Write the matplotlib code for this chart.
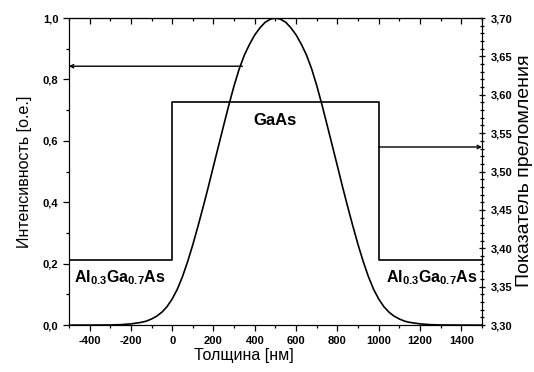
import numpy as np
import matplotlib
matplotlib.use('Agg')
import matplotlib.pyplot as plt
from matplotlib.ticker import MultipleLocator, FuncFormatter

plt.rcParams['font.family'] = ['Liberation Sans', 'DejaVu Sans']
plt.rcParams['mathtext.fontset'] = 'custom'
plt.rcParams['mathtext.rm'] = 'Liberation Sans'
plt.rcParams['mathtext.bf'] = 'Liberation Sans:bold'
plt.rcParams['axes.unicode_minus'] = False

# Интенсивность моды
thickness = [-500, -300, -250, -200, -150, -125, -100, -75, -50, -25,
             0, 25, 50, 75, 100, 125, 150, 175, 200, 225, 250, 275, 300, 325,
             350, 375, 400, 425, 450, 475, 500,
             525, 550, 575, 600, 625, 650, 675, 700, 725, 750, 775, 800, 825,
             850, 875, 900, 925, 950, 975, 1000,
             1025, 1050, 1075, 1100, 1125, 1150, 1200, 1250, 1300, 1500]
intensity = [0.0, 0.0005, 0.0015, 0.004, 0.009, 0.013, 0.02, 0.029, 0.042, 0.06,
             0.085, 0.117, 0.158, 0.207, 0.262, 0.322, 0.385, 0.45, 0.518, 0.585,
             0.652, 0.718, 0.78, 0.835, 0.88, 0.915, 0.945, 0.968, 0.986, 0.996, 1.0,
             0.996, 0.986, 0.968, 0.945, 0.915, 0.88, 0.835, 0.78, 0.718, 0.652,
             0.585, 0.518, 0.45, 0.385, 0.322, 0.262, 0.207, 0.158, 0.117, 0.085,
             0.06, 0.042, 0.029, 0.02, 0.013, 0.009, 0.004, 0.0015, 0.0005, 0.0]

# Профиль показателя преломления
step_x = [-500, 0, 1000, 1500]
step_n = [3.385, 3.59, 3.385, 3.385]

comma = FuncFormatter(lambda v, p: f'{v:.1f}'.replace('.', ','))
comma2 = FuncFormatter(lambda v, p: f'{v:.2f}'.replace('.', ','))

fig = plt.figure(figsize=(5.34, 3.72), dpi=100)
ax = fig.add_axes([0.129, 0.126, 0.7736, 0.8256])
ax.plot(thickness, intensity, color='black', lw=1.2)
ax.set_xlim(-500, 1500)
ax.set_ylim(0, 1.0)
ax.xaxis.set_major_locator(MultipleLocator(200))
ax.xaxis.set_minor_locator(MultipleLocator(100))
ax.yaxis.set_major_locator(MultipleLocator(0.2))
ax.yaxis.set_minor_locator(MultipleLocator(0.1))
ax.yaxis.set_major_formatter(comma)
ax.tick_params(which='both', direction='out', labelsize=8, width=0.9)
ax.tick_params(which='major', length=4)
ax.tick_params(which='minor', length=2.5)
for lab in ax.get_xticklabels() + ax.get_yticklabels():
    lab.set_fontweight('bold')
ax.set_xlabel('Толщина [нм]', fontsize=11.5, labelpad=1)
ax.xaxis.set_label_coords(0.424, -0.075, transform=ax.transAxes)
ax.xaxis.label.set_va('top')
ax.set_ylabel('Интенсивность [о.е.]', fontsize=11.5, labelpad=8)

# верхняя ось - тики внутрь
top = ax.secondary_xaxis('top')
top.xaxis.set_major_locator(MultipleLocator(200))
top.xaxis.set_minor_locator(MultipleLocator(100))
top.tick_params(which='both', direction='in', labeltop=False, width=0.9)
top.tick_params(which='major', length=4)
top.tick_params(which='minor', length=2.5)

ax2 = ax.twinx()
ax2.step(step_x, step_n, where='post', color='black', lw=1.2)
ax2.set_ylim(3.30, 3.70)
ax2.yaxis.set_major_locator(MultipleLocator(0.05))
ax2.yaxis.set_minor_locator(MultipleLocator(0.01))
ax2.yaxis.set_major_formatter(comma2)
ax2.tick_params(which='both', direction='inout', labelsize=8, width=0.9)
ax2.tick_params(which='major', length=5)
ax2.tick_params(which='minor', length=3)
for lab in ax2.get_yticklabels():
    lab.set_fontweight('bold')
fig.text(524.5 / 534, 1 - 171 / 372, 'Показатель преломления', rotation=90,
         ha='center', va='center', fontsize=14)

# стрелки к осям
ax.annotate('', xy=(-500, 0.843), xytext=(340, 0.843),
            arrowprops=dict(arrowstyle='->', color='black', lw=1.0,
                            mutation_scale=6, shrinkA=0, shrinkB=0))
ax2.annotate('', xy=(1500, 3.532), xytext=(1000, 3.532),
             arrowprops=dict(arrowstyle='->', color='black', lw=1.0,
                             mutation_scale=6, shrinkA=0, shrinkB=0))

ax.text(500, 0.665, 'GaAs', ha='center', va='center', fontsize=12, fontweight='bold')
ax.text(-475, 0.155, r'$\mathbf{Al_{0.3}Ga_{0.7}As}$', ha='left', va='center', fontsize=11.5)
ax.text(1035, 0.155, r'$\mathbf{Al_{0.3}Ga_{0.7}As}$', ha='left', va='center', fontsize=11.5)

fig.savefig('out.png', dpi=100)
